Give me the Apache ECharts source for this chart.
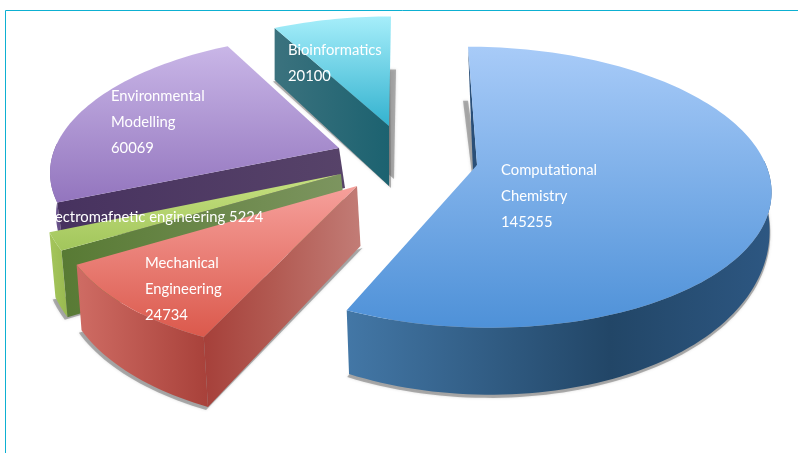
<!DOCTYPE html>
<html>
<head>
<meta charset="utf-8">
<style>html,body{margin:0;padding:0;background:#fff}#chart{width:798px;height:453px}</style>
<script src="https://cdn.jsdelivr.net/npm/echarts@6/dist/echarts.min.js"></script>
</head>
<body>
<div id="chart"></div>
<script>
// Exploded perspective pie of research workload per discipline.
const categories = ['Computational Chemistry', 'Mechanical Engineering', 'Electromafnetic engineering', 'Environmental Modelling', 'Bioinformatics'];
const sliceValues = [145255, 24734, 5224, 60069, 20100];
const labelLines = [['Computational', 'Chemistry'], ['Mechanical', 'Engineering'], ['Electromafnetic engineering'], ['Environmental', 'Modelling'], ['Bioinformatics']];
const inlineValue = [false, false, true, false, false];

// Per-slice view: hub = exploded centre of the wedge, r = disc radii, k = perspective,
// sk = shear, d = extrusion depth (d0 + d1 * v), bs/bx = scale and shift of the lower rim.
const sliceViews = [
  { hub: [477, 165], rx: 289, ry: 137, k: .158, sk: 10.4, d0: 32, d1: 35, bs: .99, bx: 1, order: 2, rimShadow: true,
    cutApex: [-4, 7], cutFar: [0, 0], edgeShadow: [-5, 54],
    top: ['#a8cbf8', '#4e91d8'], side: [[0, '#4377a6'], [.62, '#224667'], [1, '#2d5782']], cut: [[0, '#2a4f78'], [1, '#2a4f78']] },
  { hub: [357, 186], rx: 295, ry: 144.4, k: .145, sk: -10.5, d0: 60, d1: 11, bs: .995, bx: 3.5, order: 5, rimShadow: true,
    top: ['#f6a09b', '#db594c'], side: [[0, '#cf6c64'], [1, '#a8413a']], cut: [[0, '#a6403a'], [.45, '#b25a52'], [1, '#c27c76']] },
  { hub: [341, 174], rx: 295, ry: 140, k: .15, sk: -7.5, d0: 60, d1: 13, bs: 1, bx: 6, order: 4, rimShadow: true,
    top: ['#c6e080', '#a2c65c'], side: [[0, '#a5c65c'], [1, '#98b950']], cut: [[0, '#587a34'], [1, '#7d9560']] },
  { hub: [339, 148], rx: 284, ry: 131, k: .15, sk: -10, d0: 40, d1: 10, bs: 1, bx: 6, order: 3,
    top: ['#c9b6e7', '#9375be'], side: [[0, '#7a62a0'], [1, '#5a4478']], cut: [[0, '#47325f'], [1, '#574369']] },
  { hub: [389, 126], rx: 277, ry: 126, k: .15, sk: -2.3, d0: 60, d1: 9, bs: 1, bx: 0, order: 1, rimShadow: true, rearShadow: [5, 53],
    top: ['#a6eefa', '#33b2cf'], side: [[0, '#1d6371'], [1, '#1d6371']], cut: [[0, '#3b727e'], [1, '#1c6270']] }
];

// Label anchors: left edge and centre of the first line.
const labelAnchors = [[501, 170], [145, 263], [43, 217], [111, 96], [288, 50]];
const lineGap = 26;
const frameColor = '#0db0d2';

const total = sliceValues.reduce((a, b) => a + b, 0);
const startAngles = [];
sliceValues.reduce((acc, val, i) => { startAngles[i] = acc; return acc + val / total * 360; }, 0);

function topPoint(view, deg) {
  const rad = deg * Math.PI / 180;
  const u = Math.sin(rad), v = -Math.cos(rad);
  const s = 1 / (1 - view.k * v);
  return { x: view.hub[0] + s * (view.rx * u + view.sk * v), y: view.hub[1] + s * view.ry * v, v };
}
function lowerPoint(view, deg) {
  const p = topPoint(view, deg);
  return { x: view.hub[0] + (p.x - view.hub[0]) * view.bs + view.bx, y: p.y + view.d0 + view.d1 * p.v, v: p.v };
}
function angleSteps(a0, a1) {
  const n = Math.max(4, Math.ceil((a1 - a0) / 1.5));
  const out = [];
  for (let i = 0; i <= n; i++) out.push(a0 + (a1 - a0) * i / n);
  return out;
}
const xy = p => [p.x, p.y];
const vertical = (c0, c1) => ({ type: 'linear', x: 0, y: 0, x2: 0, y2: 1, colorStops: [{ offset: 0, color: c0 }, { offset: 1, color: c1 }] });
const horizontal = stops => ({ type: 'linear', x: 0, y: 0, x2: 1, y2: 0, colorStops: stops.map(s => ({ offset: s[0], color: s[1] })) });
const SHADOW = 'rgba(90,90,90,0.45)';

function renderSlice(params, api) {
  const i = params.dataIndex;
  const view = sliceViews[i];
  const a0 = startAngles[i];
  const a1 = a0 + api.value(0) / total * 360;
  const steps = angleSteps(a0, a1);
  const hub = view.hub;
  const lowerHub = [hub[0] + view.bx, hub[1] + view.d0];
  const upper = steps.map(t => topPoint(view, t));
  const lower = steps.map(t => lowerPoint(view, t));
  const base = view.order * 10;
  const children = [];
  const near = upper[0];

  const poly = (points, fill, z, extra) => children.push({
    type: 'polygon', shape: { points }, z2: base + z, silent: true,
    style: Object.assign({ fill, stroke: null }, extra || {})
  });
  const soft = { shadowBlur: 3, shadowColor: SHADOW };

  // soft cast shadow under the lower rim, behind the wedge's rear, or along its near edge
  if (view.rimShadow) {
    const facing = steps.filter(t => topPoint(view, t).v >= -0.05).map(t => lowerPoint(view, t));
    const rimPts = facing.length > 1 ? facing : lower;
    const grow = p => [lowerHub[0] + (p.x - lowerHub[0]) * 1.006 - 1, lowerHub[1] + (p.y - lowerHub[1]) * 1.006 + 2];
    poly(rimPts.map(grow).concat([[lowerHub[0] + 2, lowerHub[1] + 2]]), SHADOW, 0, soft);
  }
  if (view.rearShadow) {
    const [sx, sy] = view.rearShadow;
    poly(upper.map(p => [p.x + sx, p.y + sy]).concat([[hub[0] + sx, hub[1] + sy]]), SHADOW, 0, soft);
  }
  if (view.edgeShadow) {
    const [sx, sy] = view.edgeShadow;
    poly([[near.x + sx, near.y + sy], [hub[0] + sx, hub[1] + 10], [hub[0], hub[1]], [near.x, near.y + sy]], SHADOW, 0, soft);
  }

  // rim wall: only the part of the arc that faces the viewer
  const front = steps.filter(t => topPoint(view, t).v >= -0.05);
  if (front.length > 1) {
    const rim = front.map(t => xy(topPoint(view, t))).concat(front.slice().reverse().map(t => xy(lowerPoint(view, t))));
    poly(rim, horizontal(view.side), 1);
  }

  // radial cut wall at the start of the wedge
  const apexEnd = view.cutApex ? [hub[0] + view.cutApex[0], hub[1] + view.cutApex[1]] : lowerHub;
  const farEnd = view.cutFar ? [near.x + view.cutFar[0], near.y + view.cutFar[1]] : xy(lower[0]);
  poly([xy(near), hub, apexEnd, farEnd], horizontal(view.cut), 2);

  // top face
  poly(upper.map(xy).concat([hub]), vertical(view.top[0], view.top[1]), 3);

  return { type: 'group', children };
}

function renderLabel(params, api) {
  const i = params.dataIndex;
  const [x, y] = labelAnchors[i];
  const lines = labelLines[i].slice();
  const value = String(api.value(0));
  if (inlineValue[i]) lines[lines.length - 1] += ' ' + value; else lines.push(value);
  return {
    type: 'group',
    children: lines.map((line, n) => ({
      type: 'text', silent: true, z2: 100,
      style: { text: line, x, y: y + n * lineGap, fill: '#ffffff', font: '14.8px Lato', textVerticalAlign: 'middle', textAlign: 'left' }
    }))
  };
}

const seriesData = sliceValues.map((value, i) => ({ name: categories[i], value: [value] }));

const chart = echarts.init(document.getElementById('chart'), null, { renderer: 'canvas' });
chart.setOption({
  animation: false,
  backgroundColor: '#ffffff',
  graphic: [{
    type: 'rect', silent: true, z: -1,
    shape: { x: 5.5, y: 10.5, width: 900, height: 600 },
    style: { fill: null, stroke: frameColor, lineWidth: 1 }
  }],
  series: [
    { type: 'custom', coordinateSystem: 'none', data: seriesData, renderItem: renderSlice, z: 2, encode: { value: 0 } },
    { type: 'custom', coordinateSystem: 'none', data: seriesData, renderItem: renderLabel, z: 3, encode: { value: 0 } }
  ]
});
</script>
</body>
</html>
